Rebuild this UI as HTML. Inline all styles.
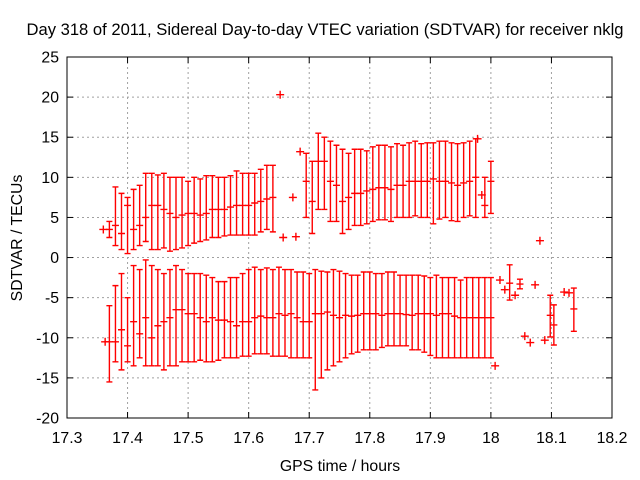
<!DOCTYPE html>
<html><head><meta charset="utf-8"><style>
body{margin:0;background:#fff}
svg{display:block;font-family:"Liberation Sans",sans-serif}
</style></head><body>
<svg id="chart" width="640" height="480" viewBox="0 0 640 480" xmlns="http://www.w3.org/2000/svg">
<rect width="640" height="480" fill="#fff"/>
<text x="325" y="35" font-size="16.6" text-anchor="middle">Day 318 of 2011, Sidereal Day-to-day VTEC variation (SDTVAR) for receiver nklg</text>
<text x="340" y="471" font-size="15.8" text-anchor="middle">GPS time / hours</text>
<text transform="translate(22,238) rotate(-90)" font-size="15.8" text-anchor="middle">SDTVAR / TECUs</text>
<g id="grid"></g><g id="ticks"></g><g id="marks"></g>
<rect x="67" y="57" width="545" height="361" fill="none" stroke="#000" stroke-width="1"/>
</svg>
<script>
const xTicks=[17.3,17.4,17.5,17.6,17.7,17.8,17.9,18,18.1,18.2];
const xTickLabels=["17.3","17.4","17.5","17.6","17.7","17.8","17.9","18","18.1","18.2"];
const yTicks=[25,20,15,10,5,0,-5,-10,-15,-20];
const yTickLabels=["25","20","15","10","5","0","-5","-10","-15","-20"];

const upper1Start=17.37;
const upper1C=[3.5,4,3,6.5,3.5,4,5,6.5,6.5,6,5.5,5,5.3,5.5,5.5,5.3,5.5,6,6,6,6.3,6.5,6.5,6.5,6.8,7,7.3,7.5];
const upper1Hi=[4.5,8.8,8,7.5,8.5,9,10.5,10.5,10.3,10.5,10,10,10,9.5,10,9.8,10.2,10.2,10,10,10.2,10.8,10.5,10.5,10.5,11,11.5,11.5];
const upper1Lo=[2.5,1.5,1,0.5,1,1.5,2,1,1,1.2,0.8,1,1.2,1.5,1.8,2,2.2,2.5,2.5,2.7,2.8,2.8,2.8,2.8,2.8,3.2,3.5,3.2];

const upper2Start=17.695;
const upper2C=[9.5,7,12,12,9.5,9,7,7.5,8,8,8.3,8.5,8.7,8.7,8.5,9,9,9.5,9.5,9.5,9.5,9.8,9.5,9.5,9.3,9,9.3,9.5,10];
const upper2Hi=[13,12,15.5,15,14.5,14,13.5,13,13.5,13.5,13.3,13.8,14,14,13.8,14.2,14,14.3,14.5,14.2,14.3,14.3,14.5,14.5,14.3,14.2,14.3,14.5,14.8];
const upper2Lo=[5,3,6,6,4.5,4.5,3,3.5,4,4,4.2,4.5,4.7,4.7,4.5,5,5,5,5.2,5,5,4.2,4.8,5,4.6,4.5,5,5.2,5];

const lowerStart=17.37;
const lowerC=[-10.5,-10.5,-9,-11,-8,-9.5,-7.5,-10,-8.5,-8,-7.5,-6.5,-6.5,-7,-7,-7.5,-8,-7.5,-7.8,-7.8,-8,-8.5,-8,-8,-7.5,-7.3,-7.5,-7.5,-7,-7.2,-7,-7.5,-8,-8,-7,-7,-6.8,-7.2,-7.5,-7.2,-7.3,-7.2,-7,-7,-7,-7.2,-7,-7,-7,-7.1,-7.2,-7,-7,-7,-7.2,-7,-7,-7.3,-7.5,-7.5,-7.5,-7.5,-7.5,-7.5];
const lowerHi=[-6,-3.5,-2,-5,-1,-1.5,-0.3,-1,-1.5,-2,-1.5,-1,-1.5,-2,-2,-2,-2.2,-2.5,-3,-3,-2.5,-2.5,-2,-1.5,-1.2,-1.5,-1.3,-1.5,-1.2,-1.5,-1.5,-1.8,-1.8,-2,-1.5,-1.7,-1.8,-1.5,-1.7,-2,-2.2,-2.2,-1.8,-1.8,-2,-2,-1.8,-1.8,-2.2,-2.2,-2.2,-2.2,-2.3,-2.5,-2.2,-2.5,-2.5,-2.5,-2.8,-2.5,-2.5,-2.5,-2.5,-2.5];
const lowerLo=[-15.5,-13,-14,-13,-13.5,-12.5,-13.5,-13.5,-13.5,-14,-13.5,-13.5,-13,-13,-13,-12.8,-13,-13,-12.8,-12.5,-12.5,-12.5,-12.3,-12.3,-12,-12,-12,-12.3,-12.3,-12.3,-12.5,-12.5,-12.5,-12.5,-16.5,-15,-14,-13.5,-13,-12.5,-12,-11.8,-11.5,-11.5,-11.5,-11.2,-11,-11,-11,-11,-11.5,-11.5,-11.8,-12.2,-12.5,-12.5,-12.5,-12.5,-12.5,-12.5,-12.5,-12.5,-12.5,-12.5];
const step=0.01;

const extraBarX=[17.99,18.0,18.031,18.048,18.098,18.104,18.137];
const extraBarC=[6.5,9.5,-3.2,-3.3,-7.2,-8.4,-6.4];
const extraBarHi=[10,12,-0.9,-2.7,-4.7,-5.9,-3.8];
const extraBarLo=[5,5.5,-5.3,-3.9,-9.9,-10.9,-9.2];

const pointX=[17.36,17.363,17.652,17.657,17.673,17.678,17.685,17.978,17.985,18.007,18.015,18.023,18.04,18.056,18.065,18.073,18.081,18.089,18.121,18.129];
const pointY=[3.5,-10.5,20.3,2.5,7.5,2.6,13.2,14.8,7.8,-13.5,-2.8,-4.0,-4.7,-9.8,-10.6,-3.4,2.1,-10.3,-4.3,-4.4];

const X0=67,X1=612,Y0=418,Y1=57;
const xs=v=>X0+(v-17.3)/(18.2-17.3)*(X1-X0);
const ys=v=>Y0-(v+20)/45*(Y0-Y1);
const NS="http://www.w3.org/2000/svg";
function mk(tag,attrs,parent){const e=document.createElementNS(NS,tag);for(const k in attrs)e.setAttribute(k,attrs[k]);parent.appendChild(e);return e;}
const grid=document.getElementById('grid'),ticks=document.getElementById('ticks'),marks=document.getElementById('marks');

xTicks.forEach((t,i)=>{const x=xs(t);
 if(i>0&&i<xTicks.length-1){const g=mk('line',{x1:x,x2:x,y1:Y1,y2:Y0,stroke:'#a0a0a0','stroke-dasharray':'2,3'},grid);
 
 }
 mk('line',{x1:x,x2:x,y1:Y0,y2:Y0-6,stroke:'#000'},ticks);mk('line',{x1:x,x2:x,y1:Y1,y2:Y1+6,stroke:'#000'},ticks);
 const tx=mk('text',{x:x,y:Y0+25,'font-size':15.8,'text-anchor':'middle'},ticks);tx.textContent=xTickLabels[i];
 
 });
yTicks.forEach((t,i)=>{const y=ys(t);
 if(i>0&&i<yTicks.length-1){const g=mk('line',{x1:X0,x2:X1,y1:y,y2:y,stroke:'#a0a0a0','stroke-dasharray':'2,3'},grid);
 
 }
 mk('line',{x1:X0,x2:X0+6,y1:y,y2:y,stroke:'#000'},ticks);mk('line',{x1:X1,x2:X1-6,y1:y,y2:y,stroke:'#000'},ticks);
 const tx=mk('text',{x:X0-8,y:y+5.5,'font-size':15.8,'text-anchor':'end'},ticks);tx.textContent=yTickLabels[i];
 
 });

function bar(xv,c,hi,lo){const x=xs(xv),yc=ys(c),yh=ys(hi),yl=ys(lo);
 const g=mk('path',{d:`M${x},${yh}V${yl}M${x-3},${yh}H${x+3}M${x-3},${yl}H${x+3}M${x-3.5},${yc}H${x+3.5}`,stroke:'#f00','stroke-width':1.4,fill:'none'},marks);
 
 }
function series(start,C,H,L){C.forEach((c,i)=>bar(start+i*step,c,H[i],L[i]));}
series(upper1Start,upper1C,upper1Hi,upper1Lo);
series(upper2Start,upper2C,upper2Hi,upper2Lo);
series(lowerStart,lowerC,lowerHi,lowerLo);
extraBarX.forEach((x,i)=>bar(x,extraBarC[i],extraBarHi[i],extraBarLo[i]));
pointX.forEach((xv,i)=>{const x=xs(xv),y=ys(pointY[i]);
 const p=mk('path',{d:`M${x-4},${y}H${x+4}M${x},${y-4}V${y+4}`,stroke:'#f00','stroke-width':1.4},marks);
 
 });
</script>
</body></html>
